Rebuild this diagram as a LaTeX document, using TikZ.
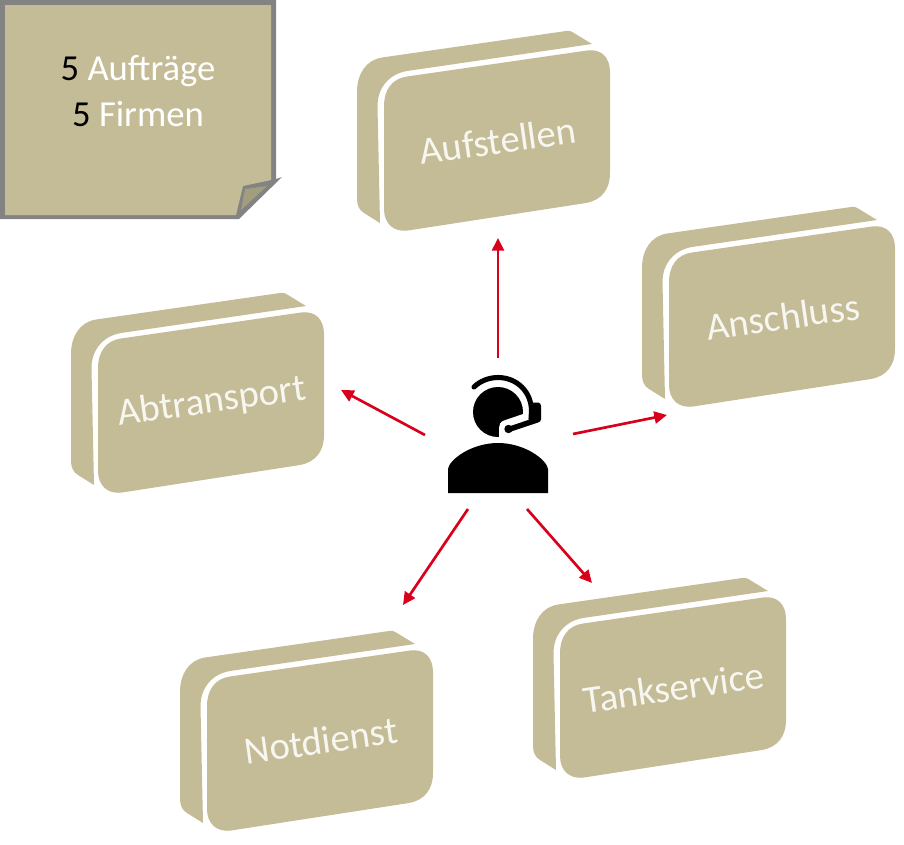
\documentclass[tikz,border=0pt]{standalone}
\usepackage{fontspec}
\setmainfont{Carlito}
\usetikzlibrary{arrows.meta}
\definecolor{gold}{HTML}{C4BC96}
\definecolor{golddark}{HTML}{A39D7F}
\definecolor{edgegray}{HTML}{838383}
\definecolor{arrowred}{HTML}{D9001B}
\definecolor{softwhite}{HTML}{F7F6F0}
\tikzset{
  x=0.75pt,y=-0.75pt,
  cardshape/.style={fill=gold,draw=none},
  cardtext/.style={text=softwhite,font=\fontsize{29}{34}\selectfont,rotate=8,inner sep=0pt,anchor=center},
  notetext/.style={text=white,font=\fontsize{27.5}{34.5}\selectfont,align=center,inner sep=0pt},
  callarrow/.style={draw=arrowred,line width=2pt,-{Triangle[length=9.5pt,width=9pt]}},
  iconfill/.style={fill=black,draw=none},
}
\newcommand{\cardat}[4]{%
  \begin{scope}[shift={(#2,#3)}]
    \path[cardshape] (382,57.5) -- (566,31) .. controls (570,30.5) and (572,31.5) .. (574,33)
      -- (592,44) -- (407,71) .. controls (389,74) and (377.5,88) .. (377.5,106)
      -- (380,223) -- (364,213) .. controls (359,210) and (357,205) .. (357,199)
      -- (357,92) .. controls (357,74) and (366,60) .. (382,57.5) -- cycle;
    \path[cardshape] (407,76.5) -- (587,50.5) .. controls (601,48.5) and (610,57) .. (610,72)
      -- (610,173) .. controls (610,189) and (602,200) .. (586,203)
      -- (408,230.5) .. controls (393,232.5) and (384,223) .. (384,209)
      -- (384,106) .. controls (384,90) and (392,78.5) .. (407,76.5) -- cycle;
    \node[cardtext] (#1) at (498,140.5) {#4};
  \end{scope}}
\begin{document}
\begin{tikzpicture}
\useasboundingbox (0,0) rectangle (904,844);
% note
\path[fill=edgegray] (0,0) -- (276,0) -- (276,179) -- (282,177) -- (239,219) -- (0,219) -- cycle;
\path[fill=gold] (5,5) -- (271,5) -- (271,180) -- (243,186) -- (236,215) -- (5,215) -- cycle;
\path[fill=golddark] (245,189) -- (267,186) -- (241,210) -- cycle;
\node[notetext] (note) at (138,91) {\textcolor{black}{5} Aufträge\\\textcolor{black}{5} Firmen};
% cards
\cardat{aufstellen}{0}{0}{Aufstellen}
\cardat{anschluss}{285}{176}{Anschluss}
\cardat{abtransport}{-286}{262}{Abtransport}
\cardat{notdienst}{-177}{600}{Notdienst}
\cardat{tankservice}{176}{547}{Tankservice}
% person
\path[iconfill] (498,412) circle (25*0.75pt);
\path[fill=white] (526,413) -- (504,420.5) .. controls (500,422) and (499,425) .. (499,428)
  -- (499,445) -- (530,445) -- (530,413) -- cycle;
\draw[black,line width=3.8pt,line cap=round] (474,387) .. controls (480,381) and (489,377.5) .. (498,377.5)
  .. controls (517,377.5) and (531.5,392) .. (531.5,411) -- (531,419);
\path[iconfill] (531,402.5) -- (538,402.5) .. controls (540,402.5) and (541,404) .. (541,406)
  -- (541,419) .. controls (541,421) and (540,422) .. (538,422.5) -- (511,431.5) -- (509,426.5) -- (531,419) -- cycle;
\path[iconfill] (508.5,429) circle (4.2*0.75pt);
\path[iconfill] (448,493) -- (448,469) .. controls (449,460) and (471,443) .. (498,443)
  .. controls (525,443) and (547,460) .. (548,469) -- (548,493) -- cycle;
\coordinate (person) at (498,432);
% arrow ends
\coordinate (s1) at (498,358); \coordinate (e1) at (498,238);
\coordinate (s2) at (573,434); \coordinate (e2) at (667,415);
\coordinate (s3) at (425,435); \coordinate (e3) at (341,390);
\coordinate (s4) at (468,509); \coordinate (e4) at (403,605);
\coordinate (s5) at (527,509); \coordinate (e5) at (592,583);
\foreach \i in {1,...,5} \draw[callarrow] (s\i) -- (e\i);
\end{tikzpicture}
\end{document}
